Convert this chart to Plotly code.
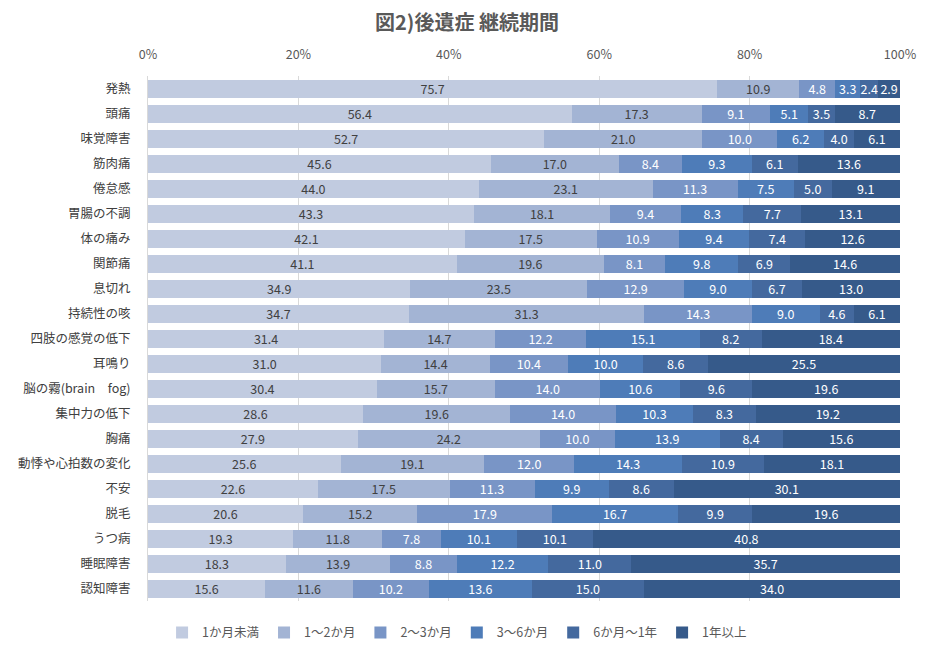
import plotly.graph_objects as go

categories = ["発熱", "頭痛", "味覚障害", "筋肉痛", "倦怠感", "胃腸の不調", "体の痛み", "関節痛", "息切れ",
              "持続性の咳", "四肢の感覚の低下", "耳鳴り", "脳の霧(brain　fog)", "集中力の低下", "胸痛",
              "動悸や心拍数の変化", "不安", "脱毛", "うつ病", "睡眠障害", "認知障害"]

series_names = ["1か月未満", "1～2か月", "2～3か月", "3～6か月", "6か月～1年", "1年以上"]

s_lt1m = [75.7, 56.4, 52.7, 45.6, 44.0, 43.3, 42.1, 41.1, 34.9, 34.7, 31.4, 31.0, 30.4, 28.6, 27.9, 25.6, 22.6, 20.6, 19.3, 18.3, 15.6]
s_1_2m = [10.9, 17.3, 21.0, 17.0, 23.1, 18.1, 17.5, 19.6, 23.5, 31.3, 14.7, 14.4, 15.7, 19.6, 24.2, 19.1, 17.5, 15.2, 11.8, 13.9, 11.6]
s_2_3m = [4.8, 9.1, 10.0, 8.4, 11.3, 9.4, 10.9, 8.1, 12.9, 14.3, 12.2, 10.4, 14.0, 14.0, 10.0, 12.0, 11.3, 17.9, 7.8, 8.8, 10.2]
s_3_6m = [3.3, 5.1, 6.2, 9.3, 7.5, 8.3, 9.4, 9.8, 9.0, 9.0, 15.1, 10.0, 10.6, 10.3, 13.9, 14.3, 9.9, 16.7, 10.1, 12.2, 13.6]
s_6m_1y = [2.4, 3.5, 4.0, 6.1, 5.0, 7.7, 7.4, 6.9, 6.7, 4.6, 8.2, 8.6, 9.6, 8.3, 8.4, 10.9, 8.6, 9.9, 10.1, 11.0, 15.0]
s_1y = [2.9, 8.7, 6.1, 13.6, 9.1, 13.1, 12.6, 14.6, 13.0, 6.1, 18.4, 25.5, 19.6, 19.2, 15.6, 18.1, 30.1, 19.6, 40.8, 35.7, 34.0]

tick_vals = [0, 20, 40, 60, 80, 100]
tick_text = ["0%", "20%", "40%", "60%", "80%", "100%"]

all_series = [s_lt1m, s_1_2m, s_2_3m, s_3_6m, s_6m_1y, s_1y]
colors = ["#C1CBE0", "#A3B4D4", "#7995C6", "#4E7CB8", "#44699E", "#365A8A"]
text_colors = ["#404040", "#404040", "white", "white", "white", "white"]

font_family = "Noto Sans CJK JP, Noto Sans, sans-serif"

fig = go.Figure()
for name, vals, c, tc in zip(series_names, all_series, colors, text_colors):
    fig.add_trace(go.Bar(
        y=categories, x=vals, name=name, orientation="h",
        marker=dict(color=c, line=dict(width=0)),
        text=vals, texttemplate="%{text:.1f}", textposition="inside",
        insidetextanchor="middle", textangle=0,
        textfont=dict(color=tc, size=12.5, family=font_family),
        constraintext="none",
    ))

fig.update_layout(
    barmode="stack", barnorm="percent", bargap=0.28,
    width=918, height=644,
    paper_bgcolor="white", plot_bgcolor="white",
    margin=dict(l=140, r=26, t=68, b=51, autoexpand=False),
    title=dict(text="<b>図2)後遺症 継続期間</b>", x=0.5, xref="container", xanchor="center",
               y=0.976, yanchor="middle",
               font=dict(size=20, color="#595959", family=font_family)),
    font=dict(family=font_family, color="#595959", size=12),
    uniformtext=dict(mode=False),
    legend=dict(orientation="h", x=0.411, xanchor="center", y=-0.032, yanchor="top",
                font=dict(size=12.5, color="#595959"), traceorder="normal", itemwidth=30),
    xaxis=dict(side="top", range=[0, 100], tickvals=tick_vals, ticktext=tick_text,
               showgrid=True, gridcolor="#D9D9D9", gridwidth=1, zeroline=False, automargin=False,
               tickfont=dict(size=12.5, color="#595959"), ticks="", ticklabelstandoff=14, fixedrange=True),
    yaxis=dict(autorange="reversed", showgrid=False, ticks="", showline=True, linecolor="#D9D9D9",
               automargin=False, tickfont=dict(size=12.5, color="#404040"), ticklabelstandoff=14),
)

fig.write_html("out.html")
